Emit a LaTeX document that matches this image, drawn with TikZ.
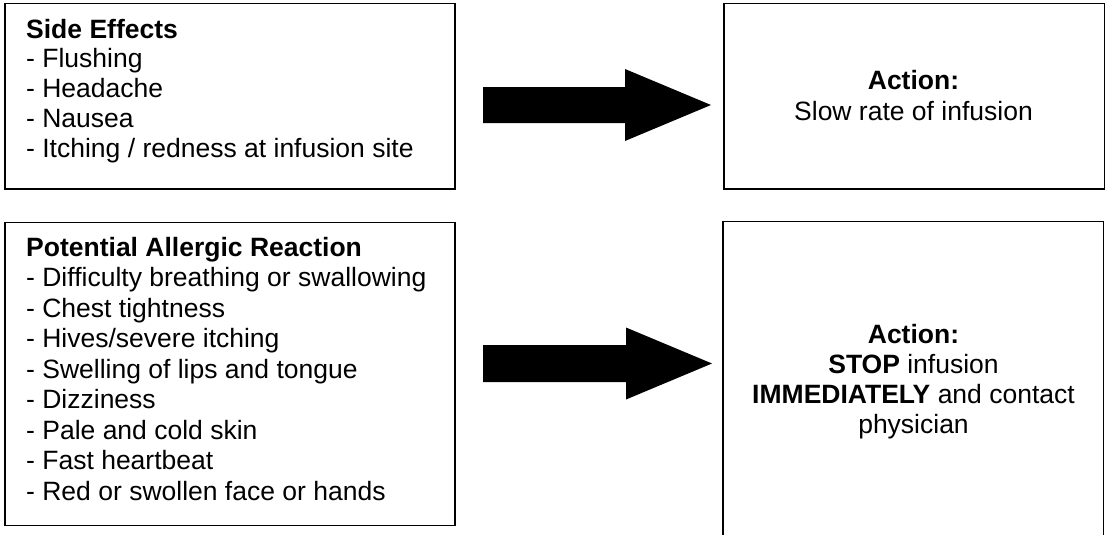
\documentclass[tikz,border=0pt]{standalone}
\usepackage{fontspec}
\setmainfont{Liberation Sans}
\begin{document}
\begin{tikzpicture}[x=1pt,y=-1pt,
  box/.style={draw=black, line width=1.5pt, inner sep=0pt, anchor=north west},
  openbox/.style={draw=black, line width=1.5pt},
  txt/.style={inner sep=0pt, anchor=base west, font=\fontsize{26.5}{30}\selectfont},
  ctxt/.style={inner sep=0pt, anchor=base, font=\fontsize{26.5}{30}\selectfont},
  blockarrow/.style={fill=black, draw=none}]
\useasboundingbox (0,0) rectangle (1105,535);

% boxes
\node[box, minimum width=450pt, minimum height=185pt] (se) at (4,3) {};
\node[box, minimum width=380.5pt, minimum height=185pt] (a1box) at (723,3) {};
\node[box, minimum width=450pt, minimum height=303pt] (ar) at (4,221.5) {};
\draw[openbox] (723,545) -- (723,221.5) -- (1103.5,221.5) -- (1103.5,545);
\coordinate (a2box) at (723,363);

% left texts (top)
\node[txt] (se0) at (26,38) {\textbf{Side Effects}};
\node[txt] (se1) at (26,67.75) {- Flushing};
\node[txt] (se2) at (26,97.5) {- Headache};
\node[txt] (se3) at (26,127.25) {- Nausea};
\node[txt] (se4) at (26,157) {- Itching / redness at infusion site};

% left texts (bottom)
\node[txt] (ar0) at (26,256) {\textbf{Potential Allergic Reaction}};
\node[txt] (ar1) at (26,286.5) {- Difficulty breathing or swallowing};
\node[txt] (ar2) at (26,317) {- Chest tightness};
\node[txt] (ar3) at (26,347.5) {- Hives/severe itching};
\node[txt] (ar4) at (26,378) {- Swelling of lips and tongue};
\node[txt] (ar5) at (26,408.5) {- Dizziness};
\node[txt] (ar6) at (26,439) {- Pale and cold skin};
\node[txt] (ar7) at (26,469.5) {- Fast heartbeat};
\node[txt] (ar8) at (26,500) {- Red or swollen face or hands};

% right texts
\node[ctxt] (t1a) at (913.5,89) {\textbf{Action:}};
\node[ctxt] (t1b) at (913.5,120) {Slow rate of infusion};
\node[ctxt] (t2a) at (913.5,343) {\textbf{Action:}};
\node[ctxt] (t2b) at (913.5,373) {\textbf{STOP} infusion};
\node[ctxt] (t2c) at (913.5,403) {\textbf{IMMEDIATELY} and contact};
\node[ctxt] (t2d) at (913.5,433) {physician};

% block arrows
\coordinate (a1s) at (483,105);
\coordinate (a1t) at (711,105);
\fill[blockarrow] (a1s) ++(0,-18) -- ++(142,0) -- ++(0,-18) -- (a1t) -- ++(-86,36) -- ++(0,-18) -- ++(-142,0) -- cycle;
\coordinate (a2s) at (483,363.5);
\coordinate (a2t) at (712,363.5);
\fill[blockarrow] (a2s) ++(0,-18.5) -- ++(143,0) -- ++(0,-17.5) -- (a2t) -- ++(-86,36) -- ++(0,-17.5) -- ++(-143,0) -- cycle;
\end{tikzpicture}
\end{document}
